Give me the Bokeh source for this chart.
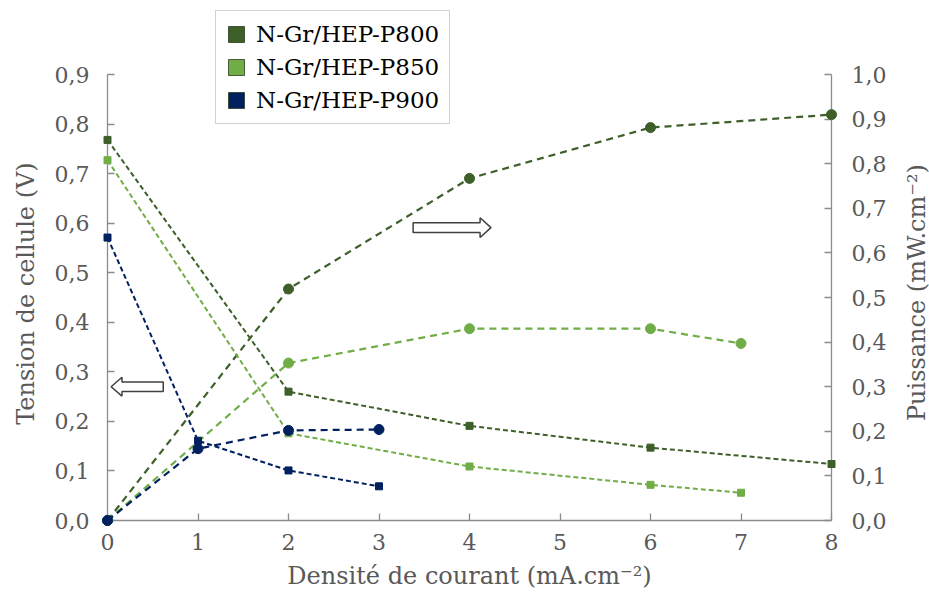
import math
from bokeh.plotting import figure
from bokeh.models import (Range1d, LinearAxis, FixedTicker, CustomJSTickFormatter,
                          Legend, LegendItem)
from bokeh.core.properties import value
from bokeh.embed import file_html
from bokeh.resources import INLINE

# ---------------- data ----------------
series_names = ["N-Gr/HEP-P800", "N-Gr/HEP-P850", "N-Gr/HEP-P900"]

current_p800 = [0, 2, 4, 6, 8]
voltage_p800 = [0.768, 0.260, 0.191, 0.147, 0.114]
power_p800 = [0.0, 0.519, 0.767, 0.881, 0.910]

current_p850 = [0, 2, 4, 6, 7]
voltage_p850 = [0.727, 0.176, 0.109, 0.072, 0.056]
power_p850 = [0.0, 0.353, 0.430, 0.430, 0.397]

current_p900 = [0, 1, 2, 3]
voltage_p900 = [0.571, 0.161, 0.101, 0.069]
power_p900 = [0.0, 0.161, 0.202, 0.204]

x_ticks = [0, 1, 2, 3, 4, 5, 6, 7, 8]
left_ticks = [0.0, 0.1, 0.2, 0.3, 0.4, 0.5, 0.6, 0.7, 0.8, 0.9]
right_ticks = [0.0, 0.1, 0.2, 0.3, 0.4, 0.5, 0.6, 0.7, 0.8, 0.9, 1.0]

x_label = "Densité de courant (mA.cm⁻²)"
left_label = "Tension de cellule (V)"
right_label = "Puissance (mW.cm⁻²)"

# ---------------- style ----------------
colors = ["#3E5F29", "#70AD47", "#002060"]
FONT = "DejaVu Serif"
TXT = "#595959"
AX = "#8C8C8C"

frame_h = 510
left_px_per_unit = 446 / 0.9
right_px_per_unit = 446 / 1.0

p = figure(frame_width=724, frame_height=frame_h,
           min_border_left=107, min_border_right=98, min_border_top=10, min_border_bottom=72,
           output_backend="svg", toolbar_location=None,
           x_range=Range1d(0, 8), y_range=Range1d(0, frame_h / left_px_per_unit))
p.extra_y_ranges = {"pw": Range1d(0, frame_h / right_px_per_unit)}
p.outline_line_color = None
p.xgrid.visible = False
p.ygrid.visible = False
p.background_fill_color = "white"
p.border_fill_color = "white"

fmt = CustomJSTickFormatter(code="return tick.toFixed(1).replace('.', ',');")


def style_axis(ax, label, standoff, label_standoff):
    ax.axis_label = label
    ax.axis_label_text_font = FONT
    ax.axis_label_text_font_style = "normal"
    ax.axis_label_text_font_size = "24px"
    ax.axis_label_text_color = TXT
    ax.axis_label_standoff = label_standoff
    ax.major_label_text_font = FONT
    ax.major_label_text_font_size = "22px"
    ax.major_label_text_color = TXT
    ax.major_label_standoff = standoff
    ax.axis_line_color = AX
    ax.axis_line_width = 1.3
    ax.major_tick_line_color = AX
    ax.major_tick_line_width = 1.3
    ax.major_tick_in = 7
    ax.major_tick_out = 0
    ax.minor_tick_line_color = None


xa = p.xaxis[0]
xa.ticker = FixedTicker(ticks=x_ticks)
style_axis(xa, x_label, 13, 9)

ya = p.yaxis[0]
ya.ticker = FixedTicker(ticks=left_ticks)
ya.formatter = fmt
ya.bounds = (0, 0.9)
style_axis(ya, None, 18, 14)

ra = LinearAxis(y_range_name="pw", ticker=FixedTicker(ticks=right_ticks), formatter=fmt,
                bounds=(0, 1.0))
style_axis(ra, None, 20, 14)
p.add_layout(ra, "right")

# y axis titles, both reading bottom-to-top, centred on the 0..max span of their axis
t = p.text(x=[0], y=[0.458], text=[left_label], angle=math.pi / 2, x_offset=-82,
           text_align="center", text_baseline="middle", text_font=value(FONT),
           text_font_size="24px", text_color=TXT)
t.level = "overlay"
t = p.text(x=[8], y=[0.511], y_range_name="pw", text=[right_label], angle=math.pi / 2,
           x_offset=85, text_align="center", text_baseline="middle", text_font=value(FONT),
           text_font_size="24px", text_color=TXT)
t.level = "overlay"

# ---------------- series ----------------
currents = [current_p800, current_p850, current_p900]
voltages = [voltage_p800, voltage_p850, voltage_p900]
powers = [power_p800, power_p850, power_p900]

for cur, vol, pw, c in zip(currents, voltages, powers, colors):
    r = p.line(cur, vol, line_color=c, line_width=2, line_dash="5 3")
    r.level = "overlay"
    r = p.scatter(cur, vol, marker="square", size=7, fill_color=c, line_color=c)
    r.level = "overlay"
    r = p.line(cur, pw, line_color=c, line_width=2.2, line_dash="7 5", y_range_name="pw")
    r.level = "overlay"
    r = p.scatter(cur, pw, marker="circle", size=10, fill_color=c, line_color=c,
                  y_range_name="pw")
    r.level = "overlay"


# ---------------- hollow arrows (annotations) ----------------
def arrow(x_tail, x_tip, yc, head_len, shaft_half, head_half):
    d = 1 if x_tip > x_tail else -1
    x_neck = x_tip - d * head_len
    xs = [x_tail, x_neck, x_neck, x_tip, x_neck, x_neck, x_tail]
    ys = [yc - shaft_half, yc - shaft_half, yc - head_half, yc,
          yc + head_half, yc + shaft_half, yc + shaft_half]
    p.patch(xs, ys, fill_color="white", line_color="#404040", line_width=1.5)


arrow(0.616, 0.04, 0.270, 0.12, 0.0095, 0.019)
arrow(3.377, 4.237, 0.591, 0.12, 0.010, 0.020)

# ---------------- legend ----------------
nan = float("nan")
items = []
for name, c in zip(series_names, colors):
    r = p.quad(left=[nan], right=[nan], top=[nan], bottom=[nan], fill_color=c,
               line_color="#2b3a20", line_width=0.8)
    items.append(LegendItem(label=name, renderers=[r]))

legend = Legend(items=items, location=(108, 396))
legend.glyph_width = 20
legend.glyph_height = 20
legend.label_height = 20
legend.spacing = 7
legend.padding = 10
legend.label_standoff = 10
legend.label_text_font = FONT
legend.label_text_font_size = "23px"
legend.label_text_color = "black"
legend.border_line_color = "#A6A6A6"
legend.border_line_width = 1.2
legend.background_fill_alpha = 1
legend.margin = 0
p.add_layout(legend, "center")

open("out.html", "w").write(file_html(p, INLINE))
